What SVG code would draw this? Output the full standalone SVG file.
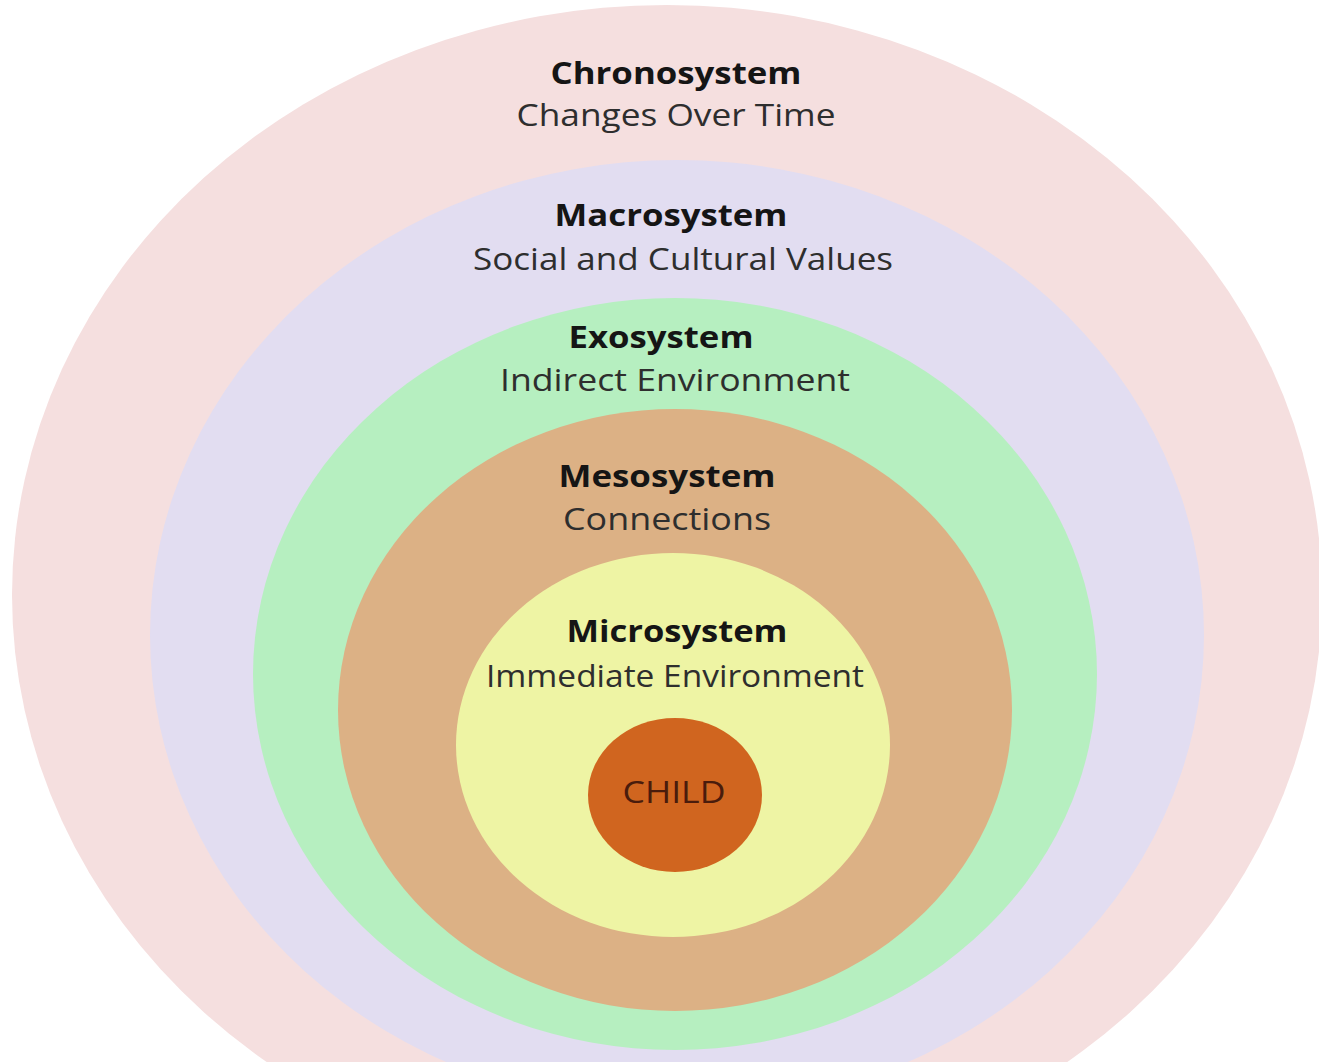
<svg xmlns="http://www.w3.org/2000/svg" width="1319" height="1062" viewBox="0 0 1319 1062">
<style>
.t{font-family:"Open Sans","Noto Sans","Liberation Sans",sans-serif;font-size:31px;text-anchor:middle}
.b{font-weight:bold;fill:#151515}
.r{fill:#2e2e2e}
</style>
<rect width="1319" height="1062" fill="#ffffff"/>
<g id="chronosystem">
<ellipse cx="667" cy="595" rx="655" ry="590" fill="#f5dfdf"/>
<text class="t b" x="676" y="84" textLength="251" lengthAdjust="spacingAndGlyphs">Chronosystem</text>
<text class="t r" x="676" y="126" textLength="319" lengthAdjust="spacingAndGlyphs">Changes Over Time</text>
</g>
<g id="macrosystem">
<ellipse cx="677" cy="635" rx="527" ry="475" fill="#e2ddf1"/>
<text class="t b" x="671" y="226" textLength="233" lengthAdjust="spacingAndGlyphs">Macrosystem</text>
<text class="t r" x="683" y="270" textLength="420" lengthAdjust="spacingAndGlyphs">Social and Cultural Values</text>
</g>
<g id="exosystem">
<ellipse cx="675" cy="674" rx="422" ry="376" fill="#b6efc0"/>
<text class="t b" x="661" y="348" textLength="185" lengthAdjust="spacingAndGlyphs">Exosystem</text>
<text class="t r" x="675" y="391" textLength="350" lengthAdjust="spacingAndGlyphs">Indirect Environment</text>
</g>
<g id="mesosystem">
<ellipse cx="675" cy="710" rx="337" ry="301" fill="#dcb185"/>
<text class="t b" x="667" y="487" textLength="217" lengthAdjust="spacingAndGlyphs">Mesosystem</text>
<text class="t r" x="667" y="530" textLength="208" lengthAdjust="spacingAndGlyphs">Connections</text>
</g>
<g id="microsystem">
<ellipse cx="673" cy="745" rx="217" ry="192" fill="#eef4a4"/>
<text class="t b" x="677" y="642" textLength="221" lengthAdjust="spacingAndGlyphs">Microsystem</text>
<text class="t r" x="675" y="687" textLength="378" lengthAdjust="spacingAndGlyphs">Immediate Environment</text>
</g>
<g id="child">
<ellipse cx="675" cy="795" rx="87" ry="77" fill="#d0651f"/>
<text class="t" x="674" y="803" fill="#4a1c0c" font-size="33" textLength="103" lengthAdjust="spacingAndGlyphs">CHILD</text>
</g>
<g id="connectors"/>
</svg>
